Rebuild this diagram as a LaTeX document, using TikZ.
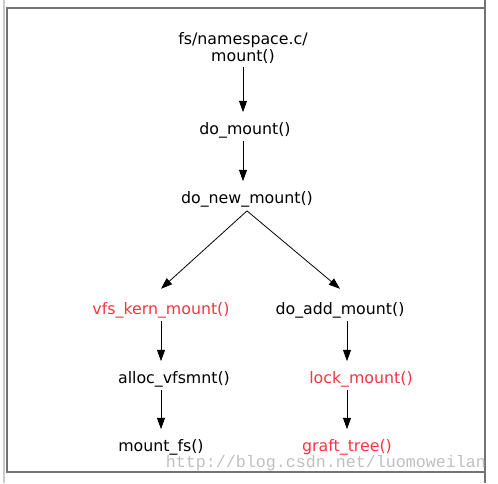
\documentclass[tikz,border=0pt]{standalone}
\usepackage{fontspec}
\setmainfont{DejaVu Sans}
\newfontfamily\wmfont{Liberation Mono}
\usetikzlibrary{arrows.meta}
\definecolor{hotred}{RGB}{250,52,64}

\begin{document}
\begin{tikzpicture}[x=0.75pt,y=-0.75pt,>={Triangle[length=8.5pt,width=6pt]},
  fn/.style={inner sep=0pt,outer sep=0pt,align=center,font=\fontsize{11.85}{12.75}\selectfont},
  fnred/.style={fn,text=hotred},
  call/.style={->,line width=0.6pt,shorten <=2.5pt,shorten >=7.5pt},
  fork/.style={->,line width=0.6pt}]
\useasboundingbox (0,0) rectangle (498,483);
% frame
\draw[black!20,line width=0.8pt] (4,0) -- (4,483);
\draw[black!55,line width=0.9pt] (485,0) -- (485,483);
\draw[black!55,line width=0.9pt] (485,8) -- (7,8) -- (7,472) -- (485,472);
% calls
\node[fn] (f0) at (243,48) {fs/namespace.c/\\mount()};
\node[fn] (f1) at (245,130) {do\_mount()};
\node[fn] (f2) at (247,199) {do\_new\_mount()};
\node[fnred] (f3) at (161,310) {vfs\_kern\_mount()};
\node[fn] (f4) at (340,310) {do\_add\_mount()};
\node[fn] (f5) at (174,379) {alloc\_vfsmnt()};
\node[fnred] (f6) at (361,379) {lock\_mount()};
\node[fn] (f7) at (161,447) {mount\_fs()};
\node[fnred] (f8) at (347,447) {graft\_tree()};
\node[font=\wmfont\fontsize{12.5}{12.5}\selectfont,text=black!25,inner sep=0pt] (wm) at (326,463) {http://blog.csdn.net/luomoweilan};
\draw[call] (f0.south) -- (f1.north -| f0.south);
\draw[call] (f1.south -| f0.south) -- (f2.north -| f0.south);
\draw[fork] ([yshift=-3pt]f2.south) -- ([yshift=10pt]f3.north);
\draw[fork] ([yshift=-3pt]f2.south) -- ([yshift=10pt]f4.north);
\draw[call] (f3.south) -- (f5.north -| f3.south);
\draw[call] (f5.south -| f7.north) -- (f7.north);
\draw[call] (f4.south -| f8.north) -- (f6.north -| f8.north);
\draw[call] (f6.south -| f8.north) -- (f8.north);
\end{tikzpicture}
\end{document}
